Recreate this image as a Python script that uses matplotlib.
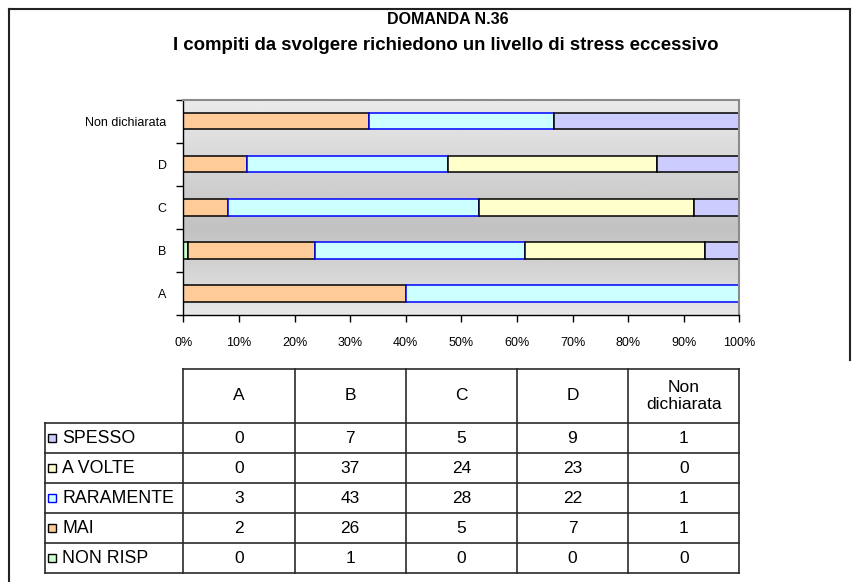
import matplotlib
matplotlib.use("Agg")
import matplotlib.pyplot as plt
import numpy as np
from matplotlib import font_manager
from matplotlib.patches import Rectangle

# risposte per fascia (A, B, C, D, Non dichiarata)
categories = ["A", "B", "C", "D", "Non dichiarata"]
table_header = ["A", "B", "C", "D", "Non\ndichiarata"]
series_names = ["NON RISP", "MAI", "RARAMENTE", "A VOLTE", "SPESSO"]
non_risp = [0, 1, 0, 0, 0]
mai = [2, 26, 5, 7, 1]
raramente = [3, 43, 28, 22, 1]
a_volte = [0, 37, 24, 23, 0]
spesso = [0, 7, 5, 9, 1]
x_ticks = [0, 10, 20, 30, 40, 50, 60, 70, 80, 90, 100]

fill_colors = ["#ccffcc", "#ffcc99", "#ccffff", "#ffffcc", "#ccccff"]
edge_colors = ["black", "black", "#0000ff", "black", "black"]

W, H = 861, 582


def has_font(name):
    try:
        font_manager.findfont(name, fallback_to_default=False)
        return True
    except ValueError:
        return False


if has_font("Liberation Sans Narrow"):
    tick_font, tick_size = "Liberation Sans Narrow", 10
else:
    tick_font, tick_size = "Liberation Sans", 9

plt.rcParams["font.family"] = ["Liberation Sans", "DejaVu Sans"]

fig = plt.figure(figsize=(W / 100, H / 100), dpi=100)

# grafico a barre in pixel: x 183-739, y 100-315
ax = fig.add_axes([183.3 / W, 1 - 315 / H, 556 / W, 215.3 / H])
grad = np.interp(np.linspace(0, 1, 256), [0, 0.6, 1], [0.92, 0.76, 0.91])
ax.imshow(grad[:, None], extent=[0, 100, -0.5, 4.5], aspect="auto",
          cmap="gray", vmin=0, vmax=1, origin="upper", zorder=0)

data = np.array([non_risp, mai, raramente, a_volte, spesso], dtype=float)
pct = data / data.sum(axis=0) * 100
y = np.arange(len(categories))
left = np.zeros(len(categories))
for vals, fc, ec in zip(pct, fill_colors, edge_colors):
    m = vals > 0
    ax.barh(y[m], vals[m], left=left[m], height=0.38, color=fc,
            edgecolor=ec, linewidth=1.1, zorder=2)
    left += vals

ax.set_xlim(0, 100)
ax.set_ylim(-0.5, 4.5)
ax.set_xticks(x_ticks)
ax.set_xticklabels([f"{t}%" for t in x_ticks], fontfamily=tick_font,
                   fontsize=tick_size)
ax.set_yticks(np.arange(-0.5, 5, 1))
ax.set_yticklabels([])
ax.set_yticks(y, minor=True)
ax.set_yticklabels(categories, minor=True, fontfamily=tick_font,
                   fontsize=tick_size)
ax.tick_params(axis="y", which="minor", length=0, pad=12)
ax.tick_params(axis="both", which="major", direction="out", length=5,
               width=1)
ax.tick_params(axis="x", pad=11)
for side in ["top", "right"]:
    ax.spines[side].set_color("#8c8c8c")
    ax.spines[side].set_linewidth(1.5)
for side in ["left", "bottom"]:
    ax.spines[side].set_color("black")
    ax.spines[side].set_linewidth(1)

# titolo
fig.text(448 / W, 1 - 20 / H, "DOMANDA N.36", ha="center", va="center",
         fontsize=11.5, fontweight="bold")
fig.text(446 / W, 1 - 45 / H,
         "I compiti da svolgere richiedono un livello di stress eccessivo",
         ha="center", va="center", fontsize=13.4, fontweight="bold")

# tabella dati sotto il grafico
cv = fig.add_axes([0, 0, 1, 1])
cv.set_xlim(0, W)
cv.set_ylim(H, 0)
cv.axis("off")

col_x = np.linspace(183.3, 739.3, len(categories) + 1)
row_y = np.concatenate([[368.7], 423.3 + 30 * np.arange(len(series_names) + 1)])
line_kw = dict(color="#2b2b2b", lw=1.2)

cv.plot([col_x[0], col_x[-1]], [row_y[0], row_y[0]], **line_kw)
for ry in row_y[1:]:
    cv.plot([45, col_x[-1]], [ry, ry], **line_kw)
for cx in col_x:
    cv.plot([cx, cx], [row_y[0], row_y[-1]], **line_kw)
cv.plot([45, 45], [row_y[1], row_y[-1]], **line_kw)

for i, lab in enumerate(table_header):
    cv.text((col_x[i] + col_x[i + 1]) / 2, (row_y[0] + row_y[1]) / 2, lab,
            ha="center", va="center", fontsize=12.5, linespacing=1.1)

rows = list(zip(series_names, data, fill_colors, edge_colors))[::-1]
for r, (name, vals, fc, ec) in enumerate(rows):
    cy = (row_y[r + 1] + row_y[r + 2]) / 2
    cv.add_patch(Rectangle((48, cy - 4), 8, 8, facecolor=fc, edgecolor=ec,
                           lw=1))
    cv.text(62, cy, name, ha="left", va="center", fontsize=12.8)
    for i, v in enumerate(vals):
        cv.text((col_x[i] + col_x[i + 1]) / 2, cy, f"{int(v)}",
                ha="center", va="center", fontsize=12.5)

# cornice esterna
frame_kw = dict(color="#222222", lw=1.5)
cv.plot([9, 9], [9, H], **frame_kw)
cv.plot([9, 850], [9, 9], **frame_kw)
cv.plot([850, 850], [9, 360], **frame_kw)

fig.savefig("out.png", dpi=100)
